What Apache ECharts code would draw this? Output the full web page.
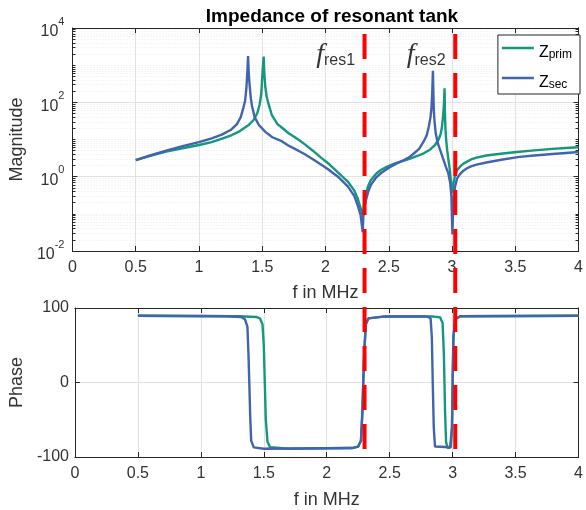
<!DOCTYPE html>
<html>
<head>
<meta charset="utf-8">
<script src="https://cdn.jsdelivr.net/npm/echarts@6/dist/echarts.min.js"></script>
<style>
  html, body { margin: 0; padding: 0; background: #fff; }
  #chart { width: 586px; height: 510px; }
</style>
</head>
<body>
<div id="chart"></div>
<script>
// magnitude |Z| vs f (MHz)
const primMag = [
  [0.5, 2.8], [0.6, 3.5], [0.74, 4.7], [0.87, 5.8], [1.0, 7.1], [1.1, 8.5], [1.2, 11], [1.26, 13.2],
  [1.32, 16.6], [1.39, 24], [1.43, 33], [1.46, 50], [1.48, 89], [1.492, 170], [1.503, 700],
  [1.511, 1700], [1.516, 630], [1.524, 263], [1.535, 141], [1.55, 89], [1.576, 45], [1.62, 26],
  [1.654, 21], [1.706, 15], [1.785, 10], [1.837, 7.4], [1.9, 5.0], [1.967, 3.2], [2.02, 2.3],
  [2.098, 1.3], [2.176, 0.74], [2.228, 0.42], [2.254, 0.26], [2.278, 0.14], [2.296, 0.085],
  [2.305, 0.2], [2.32, 0.36], [2.34, 0.6], [2.359, 0.81], [2.4, 1.2], [2.437, 1.51], [2.48, 1.8],
  [2.515, 2.05], [2.56, 2.35], [2.62, 2.7], [2.68, 3.15], [2.724, 3.6], [2.777, 4.25], [2.828, 5.4],
  [2.865, 7.1], [2.894, 10], [2.91, 14], [2.92, 21], [2.93, 45], [2.936, 89], [2.941, 240],
  [2.944, 50], [2.948, 20], [2.954, 9.5], [2.962, 5], [2.972, 2.8], [2.982, 1.6], [2.99, 0.81],
  [2.997, 0.5], [3.003, 0.36], [3.01, 0.63], [3.024, 1.07], [3.04, 1.5], [3.063, 1.85], [3.09, 2.25],
  [3.115, 2.5], [3.15, 2.9], [3.194, 3.25], [3.272, 3.7], [3.4, 4.2], [3.533, 4.7], [3.65, 5.1],
  [3.794, 5.6], [3.9, 5.9], [4.0, 6.2]
];
const secMag = [
  [0.5, 2.8], [0.6, 3.6], [0.74, 5.0], [0.87, 6.6], [1.0, 8.5], [1.1, 10.7], [1.18, 13.5], [1.25, 18],
  [1.3, 26], [1.33, 40], [1.35, 70], [1.365, 112], [1.375, 250], [1.382, 630], [1.388, 1760],
  [1.393, 630], [1.399, 320], [1.41, 126], [1.419, 80], [1.44, 40], [1.472, 25], [1.524, 16],
  [1.58, 11.5], [1.654, 9], [1.706, 6.9], [1.785, 5.0], [1.837, 4.0], [1.9, 2.95], [1.967, 2.1],
  [2.02, 1.58], [2.098, 1.0], [2.176, 0.55], [2.228, 0.3], [2.254, 0.17], [2.278, 0.09],
  [2.294, 0.032], [2.3, 0.11], [2.32, 0.235], [2.34, 0.42], [2.359, 0.6], [2.4, 0.95], [2.437, 1.23],
  [2.48, 1.55], [2.515, 1.85], [2.56, 2.25], [2.62, 2.8], [2.66, 3.3], [2.698, 4.2], [2.74, 5.6],
  [2.777, 9], [2.8, 13], [2.816, 22], [2.83, 40], [2.838, 76], [2.844, 200], [2.849, 710],
  [2.853, 160], [2.856, 60], [2.862, 30], [2.872, 14], [2.89, 7.5], [2.92, 3.8], [2.95, 1.9],
  [2.97, 1.25], [2.985, 0.7], [2.995, 0.3], [3.003, 0.028], [3.01, 0.22], [3.024, 0.54], [3.04, 0.9],
  [3.063, 1.17], [3.09, 1.45], [3.115, 1.66], [3.15, 1.9], [3.194, 2.1], [3.272, 2.4], [3.4, 2.9],
  [3.533, 3.4], [3.65, 3.7], [3.794, 4.07], [3.9, 4.35], [4.0, 4.6]
];

// phase in degrees
const primPhase = [
  [0.5, 89.5], [1.3, 89], [1.44, 88], [1.47, 86], [1.49, 78], [1.50, 50], [1.508, 0], [1.516, -50],
  [1.53, -80], [1.55, -87], [1.7, -89], [2.2, -88], [2.25, -86], [2.272, -78], [2.283, -40],
  [2.29, 0], [2.298, 40], [2.31, 78], [2.33, 86], [2.45, 88.5], [2.85, 88.5], [2.9, 87.5],
  [2.92, 80], [2.93, 40], [2.935, 0], [2.94, -40], [2.948, -80], [2.96, -88], [2.985, -87],
  [2.995, -60], [3.0, 0], [3.006, 60], [3.02, 85], [3.06, 89], [4.0, 89.5]
];
const secPhase = [
  [0.5, 89.5], [1.2, 89], [1.32, 88], [1.35, 85], [1.37, 75], [1.378, 40], [1.385, 0], [1.392, -45],
  [1.40, -78], [1.42, -87], [1.5, -89], [2.2, -88], [2.25, -86], [2.272, -78], [2.283, -40],
  [2.29, 0], [2.298, 40], [2.31, 78], [2.33, 86], [2.45, 88.5], [2.80, 88.5], [2.825, 86],
  [2.835, 60], [2.842, 0], [2.85, -60], [2.86, -86], [2.875, -88], [2.98, -87], [2.995, -60],
  [3.0, 0], [3.006, 60], [3.02, 85], [3.06, 89], [4.0, 89.5]
];

// resonance markers
const fRes = [2.29, 3.0];
const fResNames = ['res1', 'res2'];
const fResLabelX = [2.08, 2.795];
const fResLabelY = 1940;

// axis ticks
const magTicks = [0.01, 1, 100, 10000];
const magMinor = [];
for (let e = -2; e < 4; e++) {
  for (let k = 2; k <= 10; k++) {
    const v = +(k * Math.pow(10, e)).toPrecision(3);
    if (magTicks.indexOf(v) < 0) magMinor.push(v);
  }
}

const green = '#13977d';
const blue = '#4264ae';
const axisColor = '#262626';
const gridColor = '#e2e2e2';
const minorColor = '#ececec';
const labelColor = '#333';

const chart = echarts.init(document.getElementById('chart'));

function xAx(gridIndex, pos, main, gap) {
  return {
    type: 'value', gridIndex: gridIndex, position: pos, min: 0, max: 4, interval: 0.5,
    axisLine: { show: true, onZero: false, lineStyle: { color: axisColor } },
    axisTick: { show: true, inside: true, length: 5, lineStyle: { color: axisColor } },
    axisLabel: { show: main, fontSize: 16, color: labelColor, margin: 9 },
    splitLine: { show: main, lineStyle: { color: gridColor } },
    name: main ? 'f in MHz' : '',
    nameLocation: 'middle', nameGap: gap,
    nameTextStyle: { fontSize: 18, color: labelColor }
  };
}

function magAx(pos, ticks, len, main, split) {
  return {
    type: 'log', gridIndex: 0, position: pos, min: 0.01, max: 10000, logBase: 10,
    axisLine: { show: main || pos === 'right', onZero: false, lineStyle: { color: axisColor } },
    axisTick: { show: true, inside: true, length: len, customValues: ticks, lineStyle: { color: axisColor } },
    axisLabel: {
      show: main && pos === 'left', customValues: ticks, margin: 8,
      formatter: function (v) {
        return '{b|10}{e|' + Math.round(Math.log10(v)) + '}';
      },
      rich: {
        b: { fontSize: 16, color: labelColor, verticalAlign: 'bottom', lineHeight: 24 },
        e: { fontSize: 11, color: labelColor, verticalAlign: 'top', lineHeight: 13 }
      }
    },
    splitLine: split,
    name: main && pos === 'left' ? 'Magnitude' : '',
    nameLocation: 'middle', nameGap: 39,
    nameTextStyle: { fontSize: 18, color: labelColor }
  };
}

const option = {
  animation: false,
  backgroundColor: '#fff',
  textStyle: { fontFamily: 'Liberation Sans, Arial, sans-serif' },
  title: {
    text: 'Impedance of resonant tank',
    left: 327, top: 2, textAlign: 'center',
    textStyle: { fontSize: 19, fontWeight: 'bold', color: '#000' }
  },
  legend: {
    data: ['Z_prim', 'Z_sec'],
    orient: 'vertical', right: 6, top: 35,
    backgroundColor: '#fff', borderColor: axisColor, borderWidth: 1,
    padding: [7, 8, 3, 4], itemWidth: 32, itemHeight: 14, itemGap: 11,
    icon: 'path://M0,0L32,0L32,2.4L0,2.4Z',
    formatter: function (name) {
      return '{p| }{z|Z}{s|' + name.split('_')[1] + '}';
    },
    textStyle: {
      color: '#000',
      rich: {
        p: { width: 0, lineHeight: 26, fontSize: 12 },
        z: { fontSize: 16, color: '#000', verticalAlign: 'bottom', lineHeight: 22 },
        s: { fontSize: 12, color: '#000', verticalAlign: 'bottom', lineHeight: 12 }
      }
    }
  },
  grid: [
    { left: 72, right: 3, top: 28, bottom: 259 },
    { left: 72, right: 7, top: 308, bottom: 53 },
    { left: 72, right: 3, top: 34, bottom: 60 }
  ],
  xAxis: [
    xAx(0, 'bottom', true, 33),
    xAx(0, 'top', false, 0),
    xAx(1, 'bottom', true, 34),
    xAx(1, 'top', false, 0),
    { type: 'value', gridIndex: 2, min: 0, max: 4, show: false }
  ],
  yAxis: [
    magAx('left', magTicks, 5, true, { show: true, lineStyle: { color: gridColor } }),
    magAx('left', magMinor, 3, false, { show: true, lineStyle: { color: minorColor, type: [1, 2] } }),
    magAx('right', magTicks, 5, false, { show: false }),
    magAx('right', magMinor, 3, false, { show: false }),
    {
      type: 'value', gridIndex: 1, position: 'left', min: -100, max: 100, interval: 100,
      axisLine: { show: true, onZero: false, lineStyle: { color: axisColor } },
      axisTick: { show: true, inside: true, length: 5, lineStyle: { color: axisColor } },
      axisLabel: { fontSize: 16, color: labelColor, margin: 6 },
      splitLine: { show: true, lineStyle: { color: gridColor } },
      name: 'Phase', nameLocation: 'middle', nameGap: 39,
      nameTextStyle: { fontSize: 18, color: labelColor }
    },
    {
      type: 'value', gridIndex: 1, position: 'right', min: -100, max: 100, interval: 100,
      axisLine: { show: true, onZero: false, lineStyle: { color: axisColor } },
      axisTick: { show: true, inside: true, length: 5, lineStyle: { color: axisColor } },
      axisLabel: { show: false },
      splitLine: { show: false }
    },
    { type: 'value', gridIndex: 2, min: 0, max: 1, show: false }
  ],
  series: [
    {
      name: 'Z_prim', type: 'line', xAxisIndex: 0, yAxisIndex: 0, data: primMag,
      symbol: 'none', color: green, lineStyle: { width: 2.4, color: green }, z: 3
    },
    {
      name: 'Z_sec', type: 'line', xAxisIndex: 0, yAxisIndex: 0, data: secMag,
      symbol: 'none', color: blue, lineStyle: { width: 2.4, color: blue }, z: 3
    },
    {
      name: 'Z_prim', type: 'line', xAxisIndex: 2, yAxisIndex: 4, data: primPhase,
      symbol: 'none', color: green, lineStyle: { width: 2.4, color: green }, z: 3
    },
    {
      name: 'Z_sec', type: 'line', xAxisIndex: 2, yAxisIndex: 4, data: secPhase,
      symbol: 'none', color: blue, lineStyle: { width: 2.4, color: blue }, z: 3
    },
    {
      type: 'scatter', xAxisIndex: 0, yAxisIndex: 0, symbolSize: 0, silent: true, z: 5,
      data: fResNames.map(function (n, i) { return { name: n, value: [fResLabelX[i], fResLabelY] }; }),
      label: {
        show: true, position: 'inside',
        formatter: function (p) { return '{f|f}{s|' + p.name + '}'; },
        rich: {
          f: { fontFamily: 'Liberation Serif', fontStyle: 'italic', fontSize: 28, color: '#000', verticalAlign: 'bottom', lineHeight: 28 },
          s: { fontFamily: 'Liberation Sans', fontSize: 16, color: '#000', verticalAlign: 'bottom', lineHeight: 20 }
        }
      }
    }
  ].concat(fRes.map(function (f) {
    return {
      type: 'line', xAxisIndex: 4, yAxisIndex: 6, z: 10, symbol: 'none', silent: true,
      data: [[f, 1], [f, 0]],
      lineStyle: { color: '#ff0000', width: 4, type: [25, 14], cap: 'butt' }
    };
  }))
};

chart.setOption(option);
</script>
</body>
</html>
